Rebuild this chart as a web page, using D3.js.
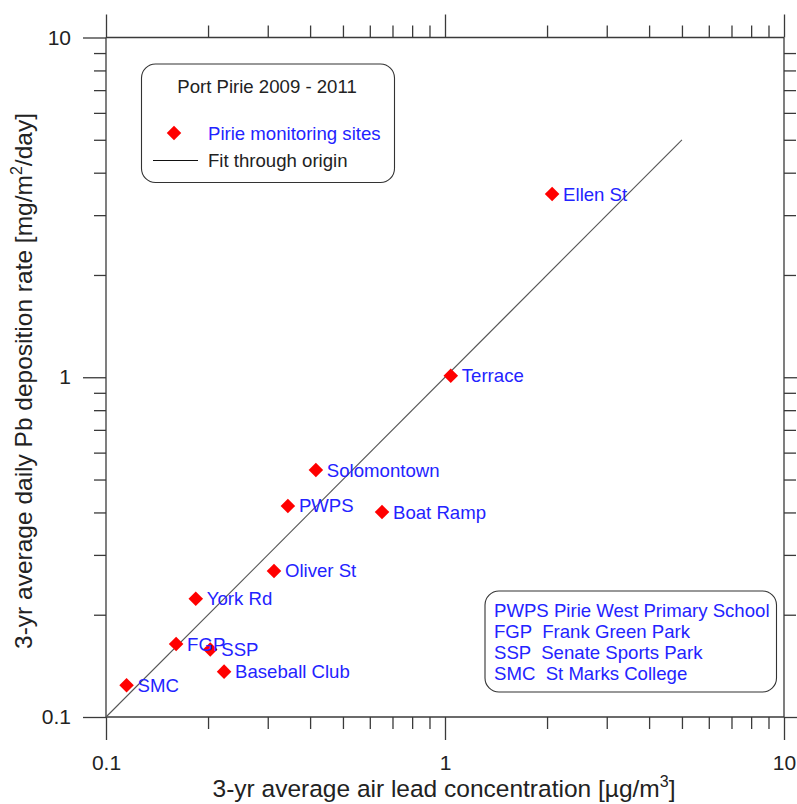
<!DOCTYPE html>
<html>
<head>
<meta charset="utf-8">
<script src="https://cdn.jsdelivr.net/npm/d3@7"></script>
<style>
  body { margin: 0; background: #fff; }
  svg { font-family: "Liberation Sans", Arial, sans-serif; display: block; }
</style>
</head>
<body>
<script>
// data
var sites = ["Ellen St", "Terrace", "Solomontown", "PWPS", "Boat Ramp", "Oliver St", "York Rd", "FGP", "SSP", "Baseball Club", "SMC"];
var airLead = [2.07, 1.04, 0.416, 0.344, 0.652, 0.313, 0.184, 0.161, 0.203, 0.223, 0.115];
var deposition = [3.46, 1.01, 0.533, 0.418, 0.401, 0.269, 0.223, 0.164, 0.158, 0.136, 0.124];
var fitX = [0.1, 5];
var majorTicks = [0.1, 1, 10];
var minorTicks = [0.2, 0.3, 0.4, 0.5, 0.6, 0.7, 0.8, 0.9, 2, 3, 4, 5, 6, 7, 8, 9];
var legendTitle = "Port Pirie 2009 - 2011";
var legendItems = ["Pirie monitoring sites", "Fit through origin"];
var abbreviations = ["PWPS Pirie West Primary School", "FGP  Frank Green Park", "SSP  Senate Sports Park", "SMC  St Marks College"];

var W = 797, H = 804;
var blue = "#2323ff", axisCol = "#3a3a3a";

var svg = d3.select("body").append("svg").attr("width", W).attr("height", H);

var x = d3.scaleLog().domain([0.1, 10]).range([106, 784]);
var y = d3.scaleLog().domain([0.1, 10]).range([717, 37.5]);

function styleAxis(g) {
  g.select(".domain").remove();
  g.selectAll("line").attr("stroke", axisCol).attr("stroke-width", 1.3);
  g.attr("font-size", 21).attr("font-family", "Liberation Sans, Arial, sans-serif");
  g.selectAll("text").attr("fill", "#222");
}

// ticks, outward on all four sides
var fmt = function(d) { return d === 0.1 ? "0.1" : d3.format("d")(d); };
svg.append("g").attr("transform", "translate(0,717)")
  .call(d3.axisBottom(x).tickValues(minorTicks).tickSize(12).tickFormat(""))
  .call(styleAxis);
svg.append("g").attr("transform", "translate(0,717)")
  .call(d3.axisBottom(x).tickValues(majorTicks).tickSize(23).tickPadding(15).tickFormat(fmt))
  .call(styleAxis);
svg.append("g").attr("transform", "translate(0,37.5)")
  .call(d3.axisTop(x).tickValues(minorTicks).tickSize(12).tickFormat(""))
  .call(styleAxis);
svg.append("g").attr("transform", "translate(0,37.5)")
  .call(d3.axisTop(x).tickValues(majorTicks).tickSize(23).tickFormat(""))
  .call(styleAxis);
svg.append("g").attr("transform", "translate(106,0)")
  .call(d3.axisLeft(y).tickValues(minorTicks).tickSize(12).tickFormat(""))
  .call(styleAxis);
svg.append("g").attr("transform", "translate(106,0)")
  .call(d3.axisLeft(y).tickValues(majorTicks).tickSize(23).tickPadding(12).tickFormat(fmt))
  .call(styleAxis);
svg.append("g").attr("transform", "translate(784,0)")
  .call(d3.axisRight(y).tickValues(minorTicks).tickSize(12).tickFormat(""))
  .call(styleAxis);
svg.append("g").attr("transform", "translate(784,0)")
  .call(d3.axisRight(y).tickValues([0.1, 1]).tickSize(23).tickFormat(""))
  .call(styleAxis);

// frame lines
svg.append("g").selectAll("line")
  .data([
    [x(0.1), y(10), x(10), y(10)],
    [x(0.1), y(0.1), x(10), y(0.1)],
    [x(0.1), y(10), x(0.1), y(0.1)],
    [x(10), y(10), x(10), y(0.1)]
  ])
  .enter().append("line")
  .attr("x1", function(d) { return d[0]; })
  .attr("y1", function(d) { return d[1]; })
  .attr("x2", function(d) { return d[2]; })
  .attr("y2", function(d) { return d[3]; })
  .attr("stroke", axisCol).attr("stroke-width", 1.3);

// fit line y = x
svg.append("line")
  .attr("x1", x(fitX[0])).attr("y1", y(fitX[0]))
  .attr("x2", x(fitX[1])).attr("y2", y(fitX[1]))
  .attr("stroke", "#555").attr("stroke-width", 1.1);

var diamond = d3.symbol().type(d3.symbolDiamond2).size(135);

// points and labels
var pts = sites.map(function(s, i) { return { name: s, x: airLead[i], y: deposition[i] }; });
svg.append("g").selectAll("path")
  .data(pts).enter().append("path")
  .attr("d", diamond)
  .attr("transform", function(d) { return "translate(" + x(d.x) + "," + y(d.y) + ")"; })
  .attr("fill", "#ff0000");
svg.append("g").selectAll("text")
  .data(pts).enter().append("text")
  .attr("x", function(d) { return x(d.x) + 11; })
  .attr("y", function(d) { return y(d.y) + 6.5; })
  .attr("font-size", "18.6px")
  .attr("fill", blue)
  .text(function(d) { return d.name; });

// legend box
var lg = svg.append("g");
lg.append("rect").attr("x", 141.5).attr("y", 64).attr("width", 253).attr("height", 118.5)
  .attr("rx", 14).attr("fill", "#fff").attr("stroke", "#333").attr("stroke-width", 1.1);
lg.append("text").attr("x", 267).attr("y", 92.5).attr("text-anchor", "middle")
  .attr("font-size", "18.6px").attr("fill", "#222").text(legendTitle);
lg.append("path").attr("d", diamond).attr("transform", "translate(174,133)").attr("fill", "#ff0000");
lg.append("text").attr("x", 208).attr("y", 140).attr("font-size", "18.6px").attr("fill", blue).text(legendItems[0]);
lg.append("line").attr("x1", 153).attr("x2", 198).attr("y1", 160.5).attr("y2", 160.5).attr("stroke", "#111").attr("stroke-width", 1);
lg.append("text").attr("x", 208).attr("y", 167).attr("font-size", "18.6px").attr("fill", "#222").text(legendItems[1]);

// abbreviation box
var ab = svg.append("g");
ab.append("rect").attr("x", 485).attr("y", 591).attr("width", 291.5).attr("height", 101)
  .attr("rx", 14).attr("fill", "#fff").attr("stroke", "#333").attr("stroke-width", 1.1);
ab.selectAll("text").data(abbreviations).enter().append("text")
  .attr("x", 494)
  .attr("y", function(d, i) { return 617 + i * 21; })
  .attr("font-size", "18.6px")
  .attr("fill", blue)
  .style("white-space", "pre")
  .text(function(d) { return d; });

// axis titles
var xt = svg.append("text").attr("x", 444).attr("y", 797).attr("text-anchor", "middle")
  .attr("font-size", "24.5px").attr("fill", "#222");
xt.append("tspan").text("3-yr average air lead concentration [µg/m");
xt.append("tspan").attr("font-size", "16px").attr("dy", -10).text("3");
xt.append("tspan").attr("dy", 10).text("]");

var yt = svg.append("text").attr("transform", "translate(32,381) rotate(-90)").attr("text-anchor", "middle")
  .attr("font-size", "24.5px").attr("fill", "#222");
yt.append("tspan").text("3-yr average daily Pb deposition rate [mg/m");
yt.append("tspan").attr("font-size", "16px").attr("dy", -10).text("2");
yt.append("tspan").attr("dy", 10).text("/day]");
</script>
</body>
</html>
